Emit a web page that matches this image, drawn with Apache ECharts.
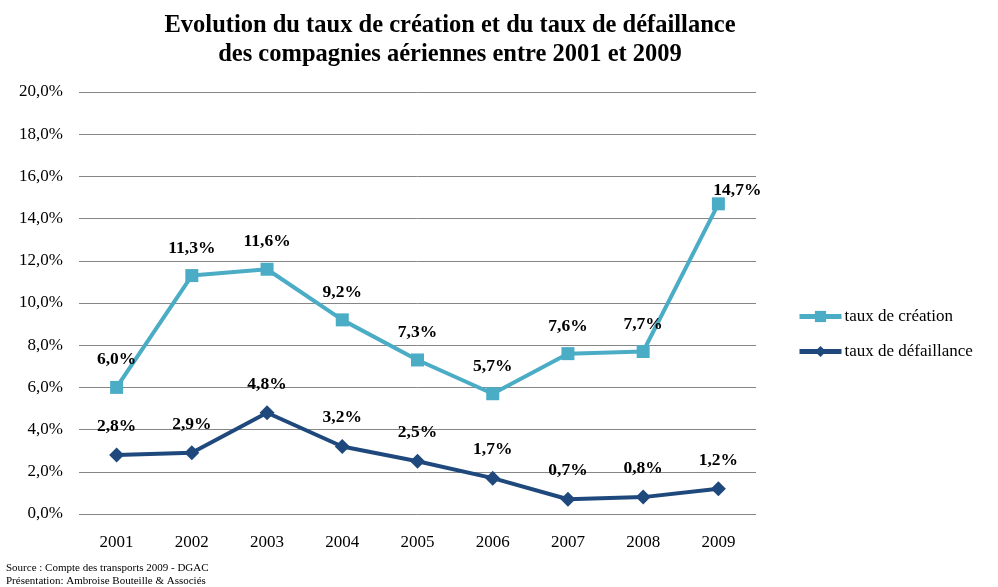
<!DOCTYPE html>
<html><head><meta charset="utf-8">
<script src="https://cdn.jsdelivr.net/npm/echarts@6/dist/echarts.min.js"></script>
<style>html,body{margin:0;padding:0;background:#fff}#c{width:998px;height:587px}</style>
</head><body><div id="c"></div>
<script>
const years = ['2001','2002','2003','2004','2005','2006','2007','2008','2009'];
const tauxCreation = [6.0, 11.3, 11.6, 9.2, 7.3, 5.7, 7.6, 7.7, 14.7];
const tauxDefaillance = [2.8, 2.9, 4.8, 3.2, 2.5, 1.7, 0.7, 0.8, 1.2];
const seriesNames = ['taux de création', 'taux de défaillance'];
const titleLines = ['Evolution du taux de création et du taux de défaillance', 'des compagnies aériennes entre 2001 et 2009'];
const sourceLines = ['Source : Compte des transports 2009 - DGAC', 'Présentation: Ambroise Bouteille & Associés'];

const serif = '"Liberation Serif", "DejaVu Serif", serif';
const fmt = v => v.toFixed(1).replace('.', ',') + '%';
const labelCfg = {
  show: true, position: 'top', distance: 12,
  fontFamily: serif, fontWeight: 'bold', fontSize: 17.5, color: '#000',
  formatter: p => fmt(p.value)
};
const chart = echarts.init(document.getElementById('c'));
chart.setOption({
  animation: false,
  title: [{
    text: titleLines.join('\n'), left: 445, top: 6, textAlign: 'center',
    textStyle: { fontFamily: serif, fontWeight: 'bold', fontSize: 24.5, lineHeight: 29, color: '#000' }
  }, {
    text: sourceLines.join('\n'), left: 1, top: 557,
    textStyle: { fontFamily: serif, fontWeight: 'normal', fontSize: 11, lineHeight: 13, color: '#000' }
  }],
  grid: { left: 79, top: 92, width: 677, height: 422, containLabel: false },
  legend: {
    orient: 'vertical', left: 792, top: 303, itemGap: 18, itemWidth: 42, itemHeight: 14,
    itemGap: 18,
    lineStyle: { width: 5 },
    textStyle: { fontFamily: serif, fontSize: 17, color: '#000', padding: [0, 0, 0, -2] },
    data: seriesNames
  },
  xAxis: {
    type: 'category', data: years, boundaryGap: true,
    axisLine: { show: false }, axisTick: { show: false },
    axisLabel: { fontFamily: serif, fontSize: 17, color: '#000', margin: 20 }
  },
  yAxis: {
    type: 'value', min: 0, max: 20, interval: 2,
    axisLine: { show: false }, axisTick: { show: false },
    axisLabel: { fontFamily: serif, fontSize: 17, color: '#000', margin: 16, formatter: v => fmt(v) },
    splitLine: { lineStyle: { color: '#868686', width: 1 } }
  },
  series: [{
    name: seriesNames[0], type: 'line', data: tauxCreation,
    symbol: 'rect', symbolSize: 13,
    lineStyle: { color: '#4BACC6', width: 4 },
    itemStyle: { color: '#4BACC6' },
    label: Object.assign({}, labelCfg),
    labelLayout: p => p.dataIndex === 8 ? { dx: 19, dy: 14 } : {}
  }, {
    name: seriesNames[1], type: 'line', data: tauxDefaillance,
    symbol: 'diamond', symbolSize: 15,
    lineStyle: { color: '#1F497D', width: 4 },
    itemStyle: { color: '#1F497D' },
    label: Object.assign({}, labelCfg)
  }]
});
</script></body></html>
